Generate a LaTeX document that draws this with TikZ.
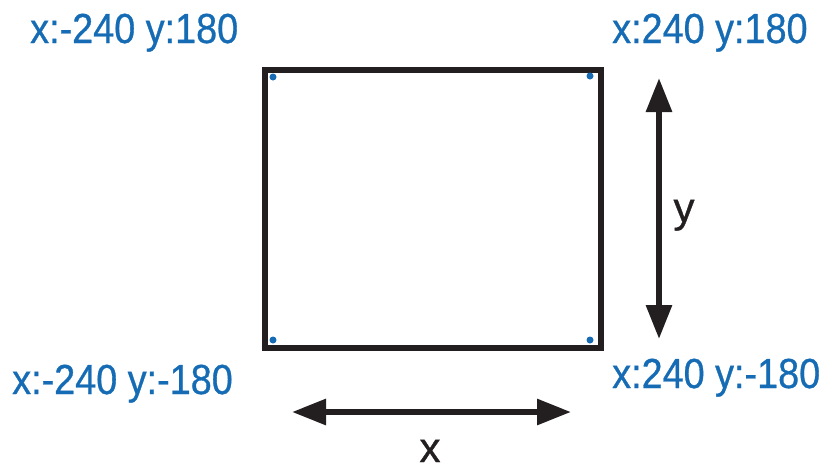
\documentclass[tikz,border=0pt]{standalone}
\usepackage{fontspec}
\setmainfont{Liberation Sans}
\newfontfamily\lblfont[FakeBold=0.8]{Liberation Sans}
\usetikzlibrary{arrows.meta}
\definecolor{lblblue}{RGB}{22,108,180}
\definecolor{ink}{RGB}{35,31,32}
\tikzset{
  coordlbl/.style={text=lblblue,inner sep=0pt,anchor=base west,font=\lblfont\fontsize{42}{50}\selectfont},
  axislbl/.style={text=ink,inner sep=0pt,font=\lblfont\fontsize{42}{50}\selectfont},
  corner/.style={circle,fill=lblblue,inner sep=0pt,minimum size=7pt},
  dimarrow/.style={ink,line width=6pt,{Triangle[length=34pt,width=25pt]}-{Triangle[length=34pt,width=25pt]}},
}
\newcommand{\sq}[1]{\scalebox{0.9}[1]{#1}}
\begin{document}
\begin{tikzpicture}[x=1pt,y=-1pt]
\useasboundingbox (0,0) rectangle (825,467);
\node[draw=ink,line width=6pt,minimum width=336pt,minimum height=278pt,inner sep=0pt] (box) at (433,209) {};
\node[corner] (tl) at (273,77) {};
\node[corner] (tr) at (590,76) {};
\node[corner] (bl) at (273,340) {};
\node[corner] (br) at (590,340) {};
\node[coordlbl] (ltl) at (30,43) {\sq{x:-240 y:180}};
\node[coordlbl] (ltr) at (612,43) {\sq{x:240 y:180}};
\node[coordlbl] (lbl) at (12,394) {\sq{x:-240 y:-180}};
\node[coordlbl] (lbr) at (612,388) {\sq{x:240 y:-180}};
\coordinate (yt) at (659,78);
\coordinate (yb) at (659,339);
\draw[dimarrow] (yt) -- (yb);
\coordinate (xl) at (292,412);
\coordinate (xr) at (571,412);
\draw[dimarrow] (xl) -- (xr);
\node[axislbl,anchor=base] (ylbl) at (684,222) {y};
\node[axislbl,anchor=base] (xlbl) at (430,462) {x};
\end{tikzpicture}
\end{document}
